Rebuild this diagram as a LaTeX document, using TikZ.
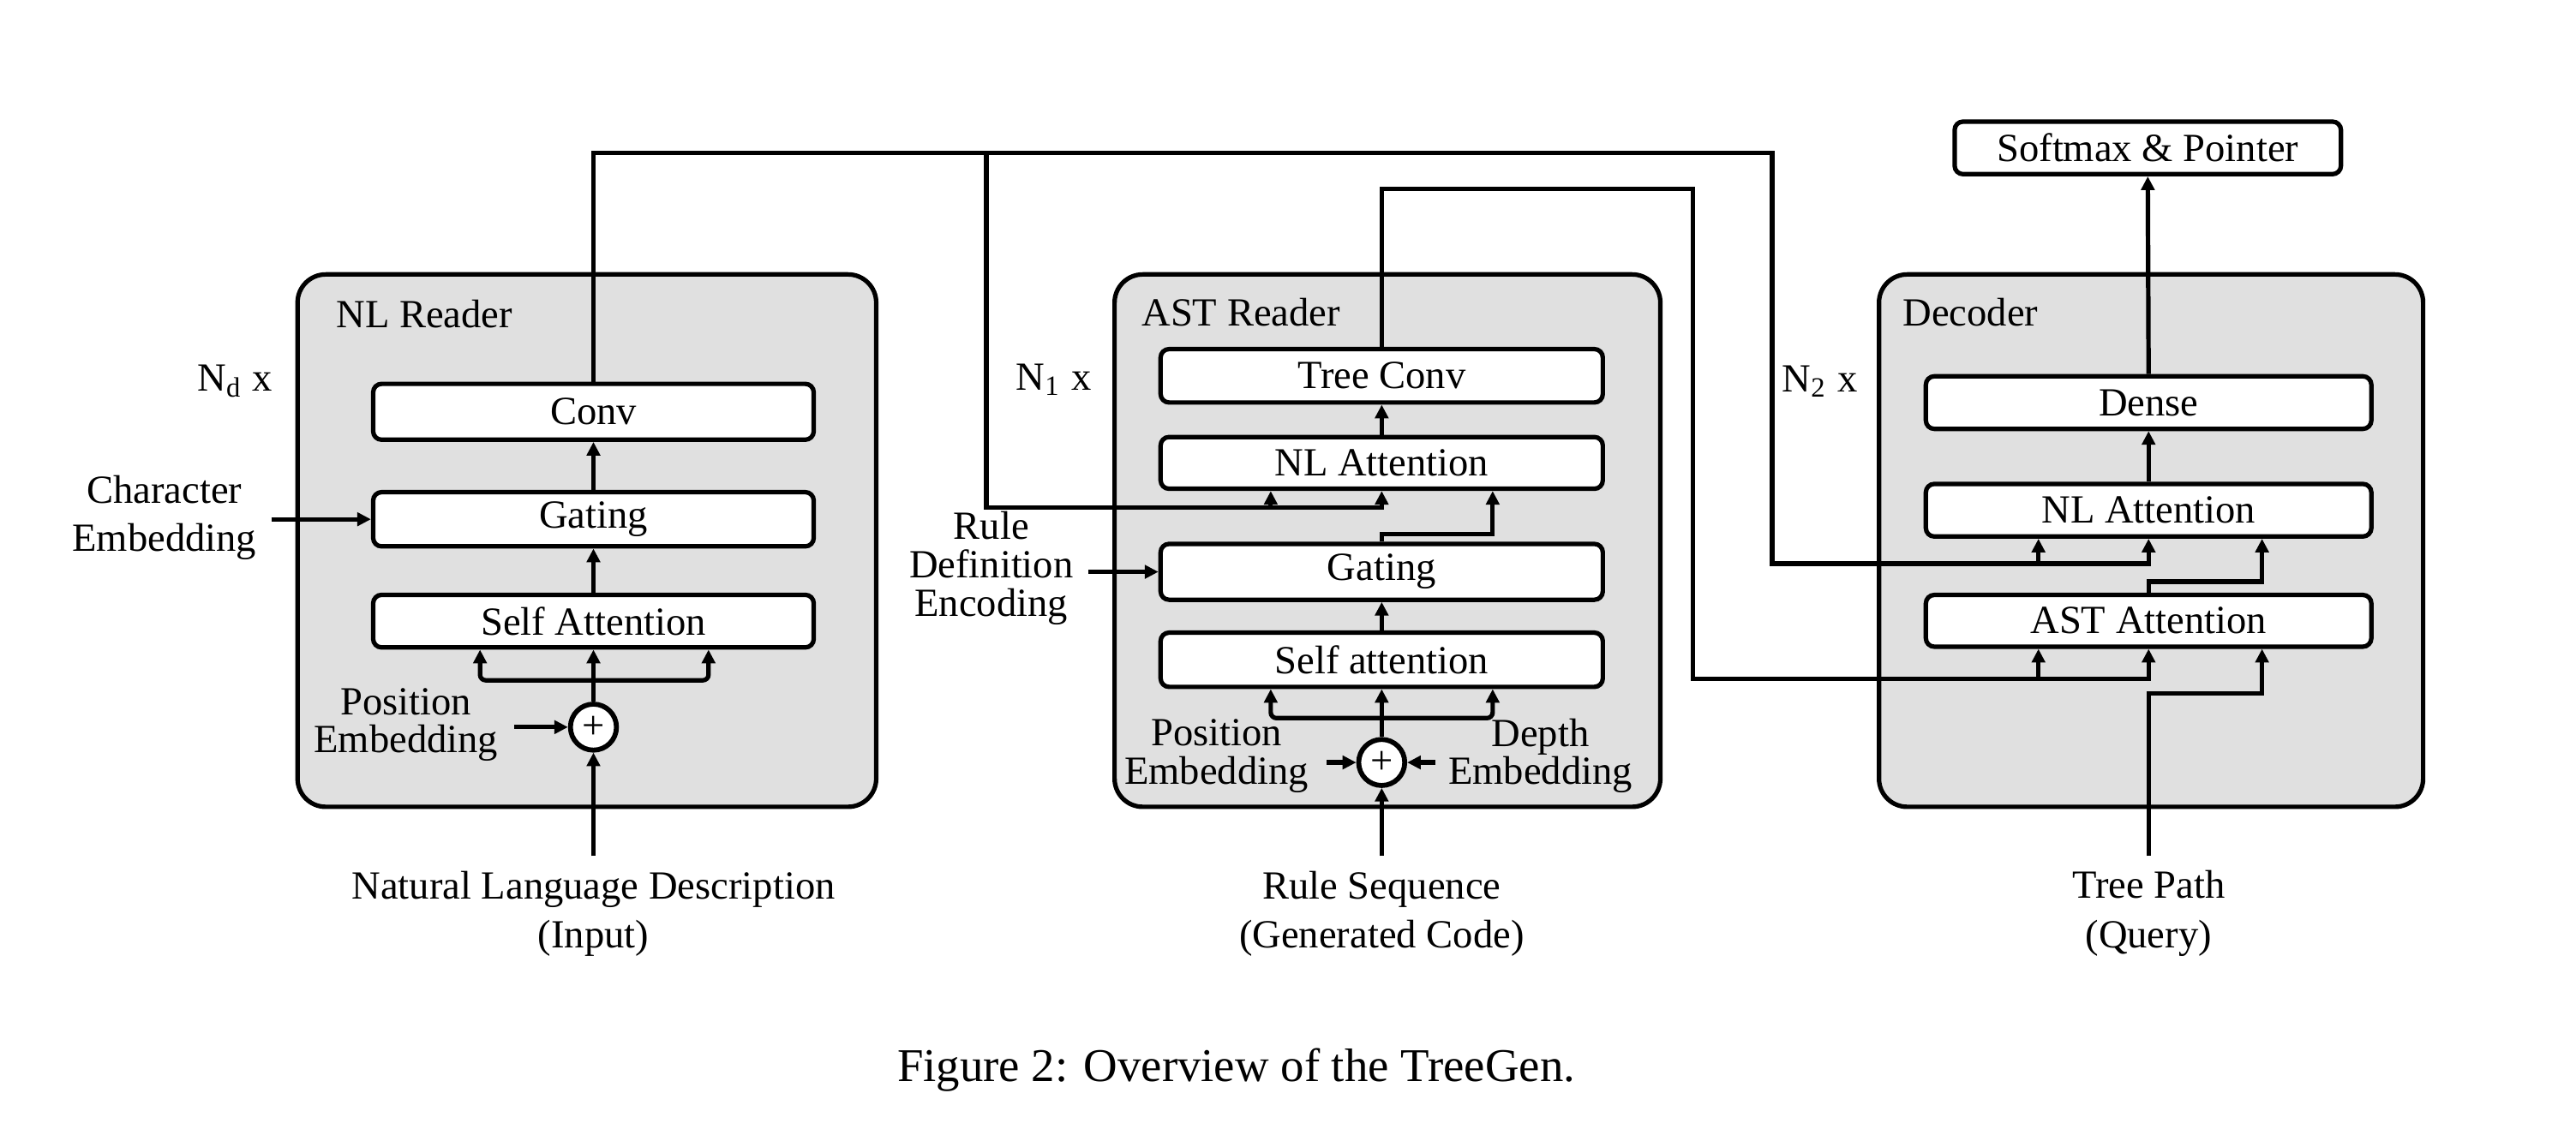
\documentclass[tikz,border=0pt]{standalone}
\usepackage{fontspec}
\setmainfont{Liberation Serif}
\usetikzlibrary{arrows.meta,calc}
\def\ux{0.35pt}
\definecolor{boxgray}{RGB}{224,224,224}
\newcommand\fs{\fontsize{8.5}{9.5}\selectfont}
\tikzset{
 grp/.style={draw, line width=0.95pt, fill=boxgray, rounded corners=6pt, inner sep=0pt, minimum height=324*\ux},
 blk/.style={draw, line width=0.95pt, fill=white, rounded corners=1.8pt, inner sep=0pt, minimum width=269*\ux, minimum height=33*\ux, font=\fs},
 plusnode/.style={draw, line width=1.05pt, fill=white, circle, minimum size=28*\ux, inner sep=0pt, font=\fs},
 lbl/.style={font=\fs, inner sep=0pt, align=center},
 arr/.style={line width=0.95pt, -{Triangle[length=2.9pt,width=2.8pt]}},
 ln/.style={line width=0.95pt},
}
\begin{document}
\begin{tikzpicture}[x=\ux,y=-\ux]
\useasboundingbox (0,0) rectangle (1567,690.2);
\fill[white] (0,0) rectangle (1567,690.2);

% outer groups
\node[grp, minimum width=352*\ux] (nlbox) at (357,329) {};
\node[grp, minimum width=332*\ux] (astbox) at (844,329) {};
\node[grp, minimum width=331*\ux] (decbox) at (1308.5,329) {};

% NL reader blocks
\node[blk, minimum width=268*\ux, minimum height=34*\ux] (conv) at (361,250.6) {Conv};
\node[blk, minimum width=268*\ux] (nlgate) at (361,316) {Gating};
\node[blk, minimum width=268*\ux, minimum height=32*\ux] (nlsa) at (361,378) {Self Attention};
\node[plusnode] (nlplus) at (361,442.5) {+};

% AST reader blocks
\node[blk, minimum height=32.5*\ux] (treeconv) at (840.5,228.7) {Tree Conv};
\node[blk, minimum height=31.5*\ux] (astnl) at (840.5,281.7) {NL Attention};
\node[blk, minimum height=34*\ux] (astgate) at (840.5,348) {Gating};
\node[blk] (astsa) at (840.5,401.5) {Self attention};
\node[plusnode] (astplus) at (840.5,464) {+};

% Decoder blocks
\node[blk, minimum width=271*\ux, minimum height=32*\ux] (dense) at (1307,245) {Dense};
\node[blk, minimum width=271*\ux, minimum height=32*\ux] (decnl) at (1307,310.5) {NL Attention};
\node[blk, minimum width=271*\ux, minimum height=31.5*\ux] (decast) at (1307,377.8) {AST Attention};
\node[blk, minimum width=235*\ux, minimum height=32*\ux] (softmax) at (1306.5,90) {Softmax \& Pointer};

% titles
\node[lbl, anchor=west] (nltitle) at (204,191) {NL Reader};
\node[lbl, anchor=west] (asttitle) at (694,190) {AST Reader};
\node[lbl, anchor=west] (dectitle) at (1157,190) {Decoder};
\node[lbl] (nd) at (143,232) {N\textsubscript{d} x};
\node[lbl] (n1) at (641,231) {N\textsubscript{1} x};
\node[lbl] (n2) at (1107,232) {N\textsubscript{2} x};

% side labels
\node[lbl, font=\fontsize{8.5}{10.1}\selectfont] (charlbl) at (100,315) {Character\\Embedding};
\node[lbl, font=\fontsize{8.5}{8.1}\selectfont] (nlposlbl) at (247,441) {Position\\Embedding};
\node[lbl, font=\fontsize{8.5}{8.2}\selectfont] (rulelbl) at (603,346) {Rule\\Definition\\Encoding};
\node[lbl, font=\fontsize{8.5}{8.1}\selectfont] (astposlbl) at (740,460) {Position\\Embedding};
\node[lbl, font=\fontsize{8.5}{8.1}\selectfont] (depthlbl) at (937,460) {Depth\\Embedding};

% bottom labels
\node[lbl, font=\fontsize{8.5}{10.5}\selectfont] (nlin) at (361,556) {Natural Language Description\\(Input)};
\node[lbl, font=\fontsize{8.5}{10.5}\selectfont] (astin) at (840.5,556) {Rule Sequence\\(Generated Code)};
\node[lbl, font=\fontsize{8.5}{10.5}\selectfont] (tpin) at (1307,556) {Tree Path\\(Query)};
\node[font=\fontsize{10}{12}\selectfont, inner sep=0pt] (cap) at (752,651) {Figure 2: Overview of the TreeGen.};

% coordinates for free ends
\coordinate (nlsrc) at (361,521);
\coordinate (astsrc) at (840.5,521);
\coordinate (tpsrc) at (1307,521);
\coordinate (charsrc) at (165,316);
\coordinate (nlpossrc) at (313,442.5);
\coordinate (astpossrc) at (807,464);
\coordinate (depthsrc) at (873,464);
\coordinate (rulesrc) at (662,348);

% NL reader connections
\draw[arr] (nlsrc) -- (nlplus.south);
\draw[arr] (nlpossrc) -- (nlplus.west);
\draw[arr] (nlplus.north) -- (nlsa.south);
\draw[arr, rounded corners=1.2pt] (nlplus.north |- 0,414) -| ([xshift=-69*\ux]nlsa.south);
\draw[arr, rounded corners=1.2pt] (nlplus.north |- 0,414) -| ([xshift=70*\ux]nlsa.south);
\draw[arr] (nlsa.north) -- (nlgate.south);
\draw[arr] (charsrc) -- (nlgate.west);
\draw[arr] (nlgate.north) -- (conv.south);

% AST reader connections
\draw[arr] (astsrc) -- (astplus.south);
\draw[arr] (astpossrc) -- (astplus.west);
\draw[arr] (depthsrc) -- (astplus.east);
\draw[arr] (astplus.north) -- (astsa.south);
\draw[arr, rounded corners=1.2pt] (astplus.north |- 0,437) -| ([xshift=-67.5*\ux]astsa.south);
\draw[arr, rounded corners=1.2pt] (astplus.north |- 0,437) -| ([xshift=67.5*\ux]astsa.south);
\draw[arr] (astsa.north) -- (astgate.south);
\draw[arr] (rulesrc) -- (astgate.west);
\draw[arr] (astgate.north) |- ([xshift=67.5*\ux]astnl.south |- 0,325) -- ([xshift=67.5*\ux]astnl.south);
\draw[arr] (astnl.north) -- (treeconv.south);

% NL reader output to AST reader and decoder
\draw[arr] (conv.north) |- (1078,93) -- (1078,343) -| (decnl.south);
\draw[arr] ([xshift=-67*\ux]decnl.south |- 0,343) -- ([xshift=-67*\ux]decnl.south);
\draw[arr] (600,93) -- (600,309) -| (astnl.south);
\draw[arr] ([xshift=-67.5*\ux]astnl.south |- 0,309) -- ([xshift=-67.5*\ux]astnl.south);

% AST reader output to decoder
\draw[arr] (treeconv.north) |- (1030,115) -- (1030,413) -| (decast.south);
\draw[arr] ([xshift=-67*\ux]decast.south |- 0,413) -- ([xshift=-67*\ux]decast.south);

% decoder connections
\draw[arr] (tpsrc) -- (tpsrc |- 0,422) -| ([xshift=69*\ux]decast.south);
\draw[arr] (decast.north) |- ([xshift=69*\ux]decnl.south |- 0,354) -- ([xshift=69*\ux]decnl.south);
\draw[arr] (decnl.north) -- (dense.south);
\draw[arr] (dense.north) -- (softmax.south);
\end{tikzpicture}
\end{document}
